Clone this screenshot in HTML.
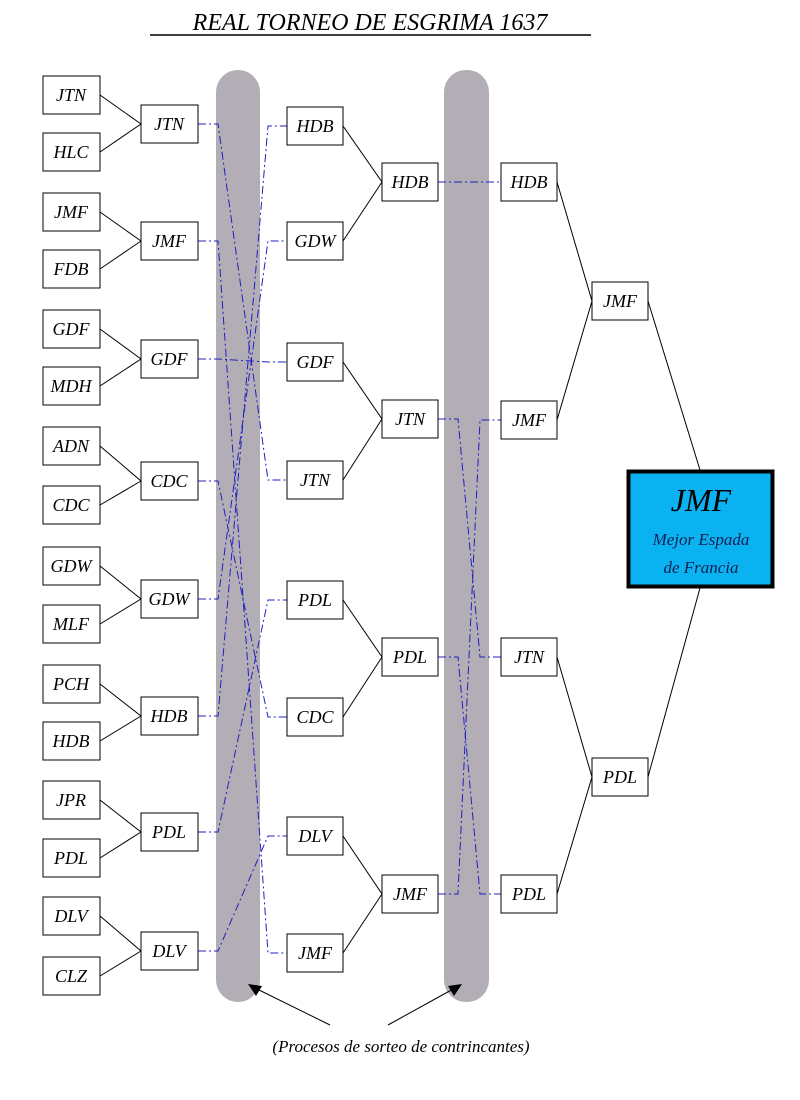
<!DOCTYPE html>
<html><head><meta charset="utf-8"><style>
html,body{margin:0;padding:0;background:#fff;width:800px;height:1100px;overflow:hidden}
svg text{font-family:"Liberation Serif",serif;font-style:italic}
</style></head><body>
<svg width="800" height="1100" viewBox="0 0 800 1100" xmlns="http://www.w3.org/2000/svg">
<rect x="216" y="70" width="44" height="932" rx="22" fill="#b3aeb6"/>
<rect x="444" y="70" width="45" height="932" rx="22" fill="#b3aeb6"/>
<text x="370" y="30" font-size="24" text-anchor="middle" fill="#000">REAL TORNEO DE ESGRIMA 1637</text>
<line x1="150" y1="35" x2="591" y2="35" stroke="#000" stroke-width="1.5"/>
<g stroke="#000" stroke-width="1" fill="none">
<path d="M100 95L141 124M100 152L141 124M100 212L141 241M100 269L141 241M100 329L141 359M100 386L141 359M100 446L141 481M100 505L141 481M100 566L141 599M100 624L141 599M100 684L141 716M100 741L141 716M100 800L141 832M100 858L141 832M100 916L141 951M100 976L141 951"/>
<path d="M343 126L382 182M343 241L382 182M343 362L382 419M343 480L382 419M343 600L382 657M343 717L382 657M343 836L382 894M343 953L382 894"/>
<path d="M557 182L592 301M557 420L592 301M557 657L592 777M557 894L592 777"/>
<path d="M648 301L700 470M648 777L700 588"/>
<path d="M330 1025L255 988M388 1025L455 988"/>
</g>
<polygon points="248,984 262,986 256,996" fill="#000"/>
<polygon points="462,984 448,986 454,996" fill="#000"/>
<g stroke="#2020c0" stroke-width="1" fill="none" stroke-dasharray="8,3,2,3">
<path d="M198 124H218L268 480H287"/>
<path d="M198 241H218L268 953H287"/>
<path d="M198 359H218L268 362H287"/>
<path d="M198 481H218L268 717H287"/>
<path d="M198 599H218L268 241H287"/>
<path d="M198 716H218L268 126H287"/>
<path d="M198 832H218L268 600H287"/>
<path d="M198 951H218L268 836H287"/>
<path d="M438 182H458L480 182H501"/>
<path d="M438 419H458L480 657H501"/>
<path d="M438 657H458L480 894H501"/>
<path d="M438 894H458L480 420H501"/>
</g>
<g stroke="#000" stroke-width="1" fill="#fff">
<rect x="43" y="76" width="57" height="38"/><rect x="43" y="133" width="57" height="38"/>
<rect x="43" y="193" width="57" height="38"/><rect x="43" y="250" width="57" height="38"/>
<rect x="43" y="310" width="57" height="38"/><rect x="43" y="367" width="57" height="38"/>
<rect x="43" y="427" width="57" height="38"/><rect x="43" y="486" width="57" height="38"/>
<rect x="43" y="547" width="57" height="38"/><rect x="43" y="605" width="57" height="38"/>
<rect x="43" y="665" width="57" height="38"/><rect x="43" y="722" width="57" height="38"/>
<rect x="43" y="781" width="57" height="38"/><rect x="43" y="839" width="57" height="38"/>
<rect x="43" y="897" width="57" height="38"/><rect x="43" y="957" width="57" height="38"/>
<rect x="141" y="105" width="57" height="38"/><rect x="141" y="222" width="57" height="38"/>
<rect x="141" y="340" width="57" height="38"/><rect x="141" y="462" width="57" height="38"/>
<rect x="141" y="580" width="57" height="38"/><rect x="141" y="697" width="57" height="38"/>
<rect x="141" y="813" width="57" height="38"/><rect x="141" y="932" width="57" height="38"/>
<rect x="287" y="107" width="56" height="38"/><rect x="287" y="222" width="56" height="38"/>
<rect x="287" y="343" width="56" height="38"/><rect x="287" y="461" width="56" height="38"/>
<rect x="287" y="581" width="56" height="38"/><rect x="287" y="698" width="56" height="38"/>
<rect x="287" y="817" width="56" height="38"/><rect x="287" y="934" width="56" height="38"/>
<rect x="382" y="163" width="56" height="38"/><rect x="382" y="400" width="56" height="38"/>
<rect x="382" y="638" width="56" height="38"/><rect x="382" y="875" width="56" height="38"/>
<rect x="501" y="163" width="56" height="38"/><rect x="501" y="401" width="56" height="38"/>
<rect x="501" y="638" width="56" height="38"/><rect x="501" y="875" width="56" height="38"/>
<rect x="592" y="282" width="56" height="38"/><rect x="592" y="758" width="56" height="38"/>
</g>
<rect x="628.5" y="471.5" width="144" height="115" fill="#0ab2f2" stroke="#000" stroke-width="4"/>
<g font-size="18" text-anchor="middle" fill="#000">
<text x="71" y="101">JTN</text><text x="71" y="158">HLC</text>
<text x="71" y="218">JMF</text><text x="71" y="275">FDB</text>
<text x="71" y="335">GDF</text><text x="71" y="392">MDH</text>
<text x="71" y="452">ADN</text><text x="71" y="511">CDC</text>
<text x="71" y="572">GDW</text><text x="71" y="630">MLF</text>
<text x="71" y="690">PCH</text><text x="71" y="747">HDB</text>
<text x="71" y="806">JPR</text><text x="71" y="864">PDL</text>
<text x="71" y="922">DLV</text><text x="71" y="982">CLZ</text>
<text x="169" y="130">JTN</text><text x="169" y="247">JMF</text>
<text x="169" y="365">GDF</text><text x="169" y="487">CDC</text>
<text x="169" y="605">GDW</text><text x="169" y="722">HDB</text>
<text x="169" y="838">PDL</text><text x="169" y="957">DLV</text>
<text x="315" y="132">HDB</text><text x="315" y="247">GDW</text>
<text x="315" y="368">GDF</text><text x="315" y="486">JTN</text>
<text x="315" y="606">PDL</text><text x="315" y="723">CDC</text>
<text x="315" y="842">DLV</text><text x="315" y="959">JMF</text>
<text x="410" y="188">HDB</text><text x="410" y="425">JTN</text>
<text x="410" y="663">PDL</text><text x="410" y="900">JMF</text>
<text x="529" y="188">HDB</text><text x="529" y="426">JMF</text>
<text x="529" y="663">JTN</text><text x="529" y="900">PDL</text>
<text x="620" y="307">JMF</text><text x="620" y="783">PDL</text>
</g>
<text x="701" y="511" font-size="32" text-anchor="middle" fill="#000">JMF</text>
<text x="701" y="545" font-size="17" text-anchor="middle" fill="#102050">Mejor Espada</text>
<text x="701" y="573" font-size="17" text-anchor="middle" fill="#102050">de Francia</text>
<text x="401" y="1052" font-size="17" text-anchor="middle" fill="#000">(Procesos de sorteo de contrincantes)</text>
</svg>
</body></html>
